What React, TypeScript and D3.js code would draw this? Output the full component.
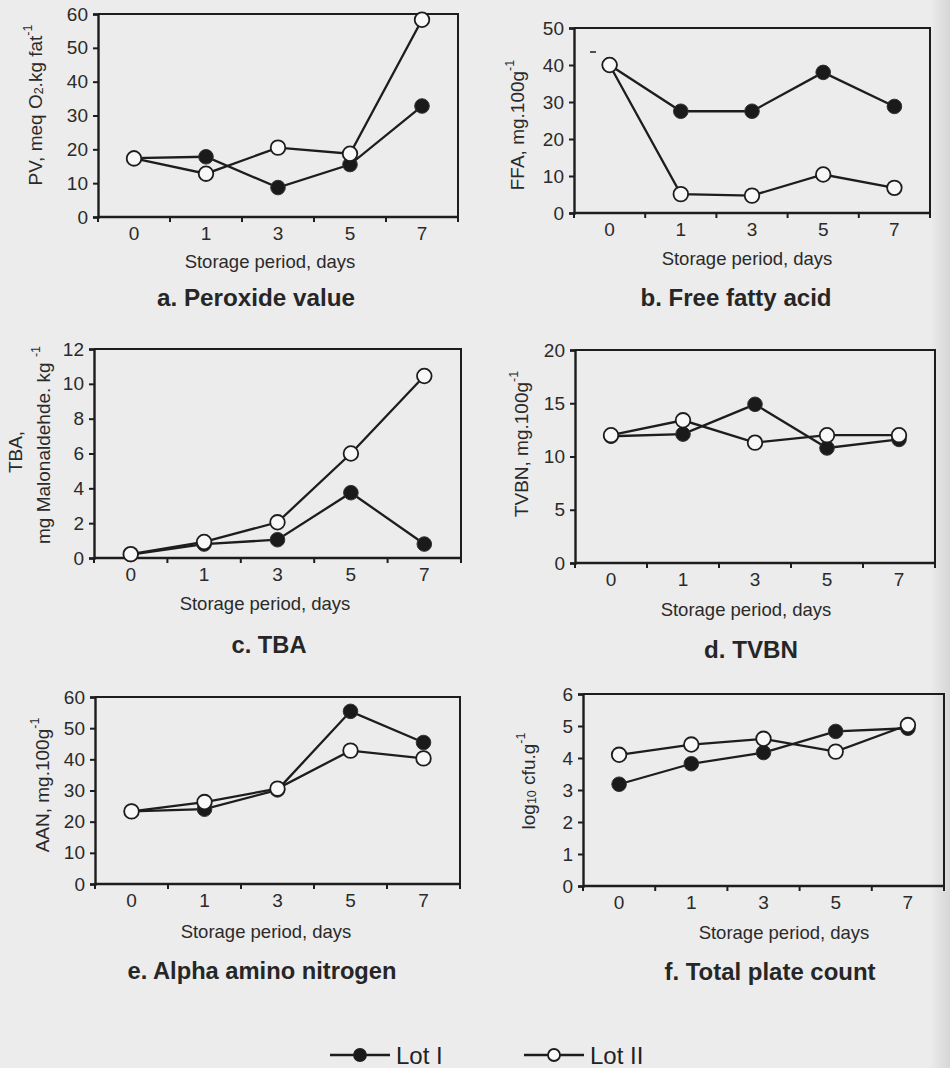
import { useRef, useEffect } from "react";
import * as d3 from "d3";

// storage period (days) — categorical x axis
const days = ["0", "1", "3", "5", "7"];

// a. Peroxide value
const pvLot1 = [17.4, 17.8, 8.7, 15.5, 32.8];
const pvLot2 = [17.3, 12.8, 20.5, 18.7, 58.3];
const pvTicks = [0, 10, 20, 30, 40, 50, 60];

// b. Free fatty acid
const ffaLot1 = [40, 27.5, 27.5, 38, 28.8];
const ffaLot2 = [40, 5.1, 4.7, 10.4, 6.8];
const ffaTicks = [0, 10, 20, 30, 40, 50];

// c. TBA
const tbaLot1 = [0.2, 0.8, 1.05, 3.75, 0.8];
const tbaLot2 = [0.22, 0.92, 2.05, 6.0, 10.45];
const tbaTicks = [0, 2, 4, 6, 8, 10, 12];

// d. TVBN
const tvbnLot1 = [11.9, 12.1, 14.9, 10.8, 11.6];
const tvbnLot2 = [12.0, 13.4, 11.3, 12.0, 12.0];
const tvbnTicks = [0, 5, 10, 15, 20];

// e. Alpha amino nitrogen
const aanLot1 = [23.3, 24.0, 30.2, 55.4, 45.4];
const aanLot2 = [23.3, 26.3, 30.6, 42.8, 40.3];
const aanTicks = [0, 10, 20, 30, 40, 50, 60];

// f. Total plate count
const tpcLot1 = [3.18, 3.82, 4.17, 4.83, 4.93];
const tpcLot2 = [4.1, 4.42, 4.6, 4.2, 5.03];
const tpcTicks = [0, 1, 2, 3, 4, 5, 6];

const lotNames = ["Lot I", "Lot II"];
const xTitle = "Storage period, days";

type Seg = [string, "n" | "sub" | "sup"];

interface Panel {
  title: string;
  lot1: number[];
  lot2: number[];
  ticks: number[];
  yLabel: Seg[][];
  box: { left: number; right: number; top: number; bottom: number };
  titlePos: [number, number, number];
  xTitlePos: [number, number];
  yLabelPos: [number, number][];
}

const panels: Panel[] = [
  {
    title: "a. Peroxide value",
    lot1: pvLot1,
    lot2: pvLot2,
    ticks: pvTicks,
    yLabel: [[["PV, meq O", "n"], ["2", "sub"], [".kg fat", "n"], ["-1", "sup"]]],
    box: { left: 98, right: 458, top: 14, bottom: 217 },
    titlePos: [256, 298, 198],
    xTitlePos: [270, 261],
    yLabelPos: [[35, 105]],
  },
  {
    title: "b. Free fatty acid",
    lot1: ffaLot1,
    lot2: ffaLot2,
    ticks: ffaTicks,
    yLabel: [[["FFA, mg.100g", "n"], ["-1", "sup"]]],
    box: { left: 574, right: 930, top: 28, bottom: 213 },
    titlePos: [736, 298, 191],
    xTitlePos: [747, 258],
    yLabelPos: [[517, 125]],
  },
  {
    title: "c. TBA",
    lot1: tbaLot1,
    lot2: tbaLot2,
    ticks: tbaTicks,
    yLabel: [
      [["TBA,", "n"]],
      [["mg Malonaldehde. kg ", "n"], ["-1", "sup"]],
    ],
    box: { left: 94, right: 461, top: 349, bottom: 558 },
    titlePos: [269, 645, 75],
    xTitlePos: [265, 603],
    yLabelPos: [
      [15, 452],
      [43, 445],
    ],
  },
  {
    title: "d. TVBN",
    lot1: tvbnLot1,
    lot2: tvbnLot2,
    ticks: tvbnTicks,
    yLabel: [[["TVBN, mg.100g", "n"], ["-1", "sup"]]],
    box: { left: 575, right: 935, top: 350, bottom: 563 },
    titlePos: [751, 650, 94],
    xTitlePos: [746, 609],
    yLabelPos: [[521, 444]],
  },
  {
    title: "e. Alpha amino nitrogen",
    lot1: aanLot1,
    lot2: aanLot2,
    ticks: aanTicks,
    yLabel: [[["AAN, mg.100g", "n"], ["-1", "sup"]]],
    box: { left: 95, right: 460, top: 697, bottom: 884 },
    titlePos: [262, 971, 269],
    xTitlePos: [266, 931],
    yLabelPos: [[42, 785]],
  },
  {
    title: "f. Total plate count",
    lot1: tpcLot1,
    lot2: tpcLot2,
    ticks: tpcTicks,
    yLabel: [[["log", "n"], ["10", "sub"], [" cfu.g", "n"], ["-1", "sup"]]],
    box: { left: 583, right: 944, top: 694, bottom: 886 },
    titlePos: [770, 972, 211],
    xTitlePos: [784, 932],
    yLabelPos: [[528, 781]],
  },
];

const INK = "#1d1d1d";
const FONT = "'Liberation Sans', Arial, sans-serif";

export default function App() {
  const svgRef = useRef<SVGSVGElement>(null);

  useEffect(() => {
    if (!svgRef.current) return;
    const svg = d3.select(svgRef.current);
    svg.selectAll("*").remove();

    svg
      .append("rect")
      .attr("width", 950)
      .attr("height", 1068)
      .attr("fill", "#ececec");

    const grad = svg
      .append("defs")
      .append("linearGradient")
      .attr("id", "edge")
      .attr("x1", "0")
      .attr("x2", "1");
    grad.append("stop").attr("offset", "0").attr("stop-color", "#ececec");
    grad.append("stop").attr("offset", "1").attr("stop-color", "#d6d6d6");
    svg
      .append("rect")
      .attr("x", 930)
      .attr("width", 20)
      .attr("height", 1068)
      .attr("fill", "url(#edge)");

    for (const p of panels) {
      const { left, right, top, bottom } = p.box;
      const g = svg.append("g").style("font-family", FONT);

      const x = d3.scaleBand<string>().domain(days).range([left, right]);
      const y = d3
        .scaleLinear()
        .domain([0, p.ticks[p.ticks.length - 1]])
        .range([bottom, top]);
      const cx = (d: string) => (x(d) || 0) + x.bandwidth() / 2;

      // frame (top + right)
      g.append("path")
        .attr("d", `M${left},${top}H${right}V${bottom}`)
        .attr("fill", "none")
        .attr("stroke", INK)
        .attr("stroke-width", 2);

      // y axis
      const yAxis = g
        .append("g")
        .attr("transform", `translate(${left},0)`)
        .call(
          d3
            .axisLeft(y)
            .tickValues(p.ticks)
            .tickSize(5)
            .tickPadding(5)
            .tickFormat((d) => String(d))
        );
      yAxis.select(".domain").attr("stroke", INK).attr("stroke-width", 2.4);
      yAxis.selectAll("line").attr("stroke", INK).attr("stroke-width", 2);
      yAxis
        .selectAll("text")
        .attr("fill", "#2a2a2a")
        .style("font-size", "19px")
        .style("font-family", FONT);

      // x axis: labels at band centers, ticks at band edges
      const xAxis = g
        .append("g")
        .attr("transform", `translate(0,${bottom})`)
        .call(d3.axisBottom(x).tickSize(0).tickPadding(10));
      xAxis
        .select(".domain")
        .attr("d", `M${left},0H${right}`)
        .attr("stroke", INK)
        .attr("stroke-width", 2.4);
      xAxis
        .selectAll("text")
        .attr("fill", "#2a2a2a")
        .style("font-size", "19px")
        .style("font-family", FONT);
      const edges = [...days.map((d) => x(d) || 0), right];
      xAxis
        .selectAll("line.edge")
        .data(edges)
        .join("line")
        .attr("class", "edge")
        .attr("x1", (d) => d)
        .attr("x2", (d) => d)
        .attr("y1", 0)
        .attr("y2", 5)
        .attr("stroke", INK)
        .attr("stroke-width", 2);

      // series lines
      const line = d3
        .line<number>()
        .x((_, i) => cx(days[i]))
        .y((v) => y(v));
      for (const s of [p.lot1, p.lot2]) {
        g.append("path")
          .attr("d", line(s) || "")
          .attr("fill", "none")
          .attr("stroke", INK)
          .attr("stroke-width", 2.3);
      }
      // markers: filled (Lot I) then open (Lot II)
      g.selectAll("circle.lot1")
        .data(p.lot1)
        .join("circle")
        .attr("class", "lot1")
        .attr("cx", (_, i) => cx(days[i]))
        .attr("cy", (v) => y(v))
        .attr("r", 7.3)
        .attr("fill", "#1a1a1a")
        .attr("stroke", "#333")
        .attr("stroke-width", 1);
      g.selectAll("circle.lot2")
        .data(p.lot2)
        .join("circle")
        .attr("class", "lot2")
        .attr("cx", (_, i) => cx(days[i]))
        .attr("cy", (v) => y(v))
        .attr("r", 7.3)
        .attr("fill", "#f8f8f8")
        .attr("stroke", INK)
        .attr("stroke-width", 1.8);

      // x title
      g.append("text")
        .attr("x", p.xTitlePos[0])
        .attr("y", p.xTitlePos[1])
        .attr("text-anchor", "middle")
        .attr("dominant-baseline", "central")
        .attr("fill", "#2a2a2a")
        .style("font-size", "18.5px")
        .text(xTitle);

      // y label (rotated, with sub/superscripts)
      p.yLabel.forEach((segs, li) => {
        const [lx, ly] = p.yLabelPos[li];
        const t = g
          .append("text")
          .attr("transform", `translate(${lx},${ly}) rotate(-90)`)
          .attr("text-anchor", "middle")
          .attr("dominant-baseline", "central")
          .attr("fill", "#2a2a2a")
          .style("font-size", "19px");
        let shift = 0;
        for (const [txt, kind] of segs) {
          const target = kind === "sub" ? 4 : kind === "sup" ? -7 : 0;
          t.append("tspan")
            .attr("dy", target - shift)
            .style("font-size", kind === "n" ? "19px" : "12.5px")
            .text(txt);
          shift = target;
        }
      });

      // panel caption
      g.append("text")
        .attr("x", p.titlePos[0])
        .attr("y", p.titlePos[1])
        .attr("text-anchor", "middle")
        .attr("dominant-baseline", "central")
        .attr("fill", "#262626")
        .attr("textLength", p.titlePos[2])
        .attr("lengthAdjust", "spacingAndGlyphs")
        .style("font-size", "23px")
        .style("font-weight", "bold")
        .text(p.title);
    }

    // stray tick mark left in panel b of the original scan
    svg
      .append("line")
      .attr("x1", 590)
      .attr("x2", 596)
      .attr("y1", 52)
      .attr("y2", 52)
      .attr("stroke", INK)
      .attr("stroke-width", 1.5);

    // legend
    const legend = svg.append("g").style("font-family", FONT);
    const lx = d3.scalePoint<string>().domain(lotNames).range([360, 554]);
    lotNames.forEach((name, i) => {
      const c = lx(name) || 0;
      legend
        .append("line")
        .attr("x1", c - 30)
        .attr("x2", c + 30)
        .attr("y1", 1055)
        .attr("y2", 1055)
        .attr("stroke", INK)
        .attr("stroke-width", 2.6);
      legend
        .append("circle")
        .attr("cx", c)
        .attr("cy", 1055)
        .attr("r", 6)
        .attr("fill", i === 0 ? "#1a1a1a" : "#f8f8f8")
        .attr("stroke", INK)
        .attr("stroke-width", 1.8);
      legend
        .append("text")
        .attr("x", c + 36)
        .attr("y", 1055)
        .attr("dominant-baseline", "central")
        .attr("fill", "#222")
        .style("font-size", "24px")
        .text(name);
    });
  }, []);

  return (
    <svg
      ref={svgRef}
      width={950}
      height={1068}
      style={{ position: "absolute", left: 0, top: 0, display: "block" }}
    />
  );
}
